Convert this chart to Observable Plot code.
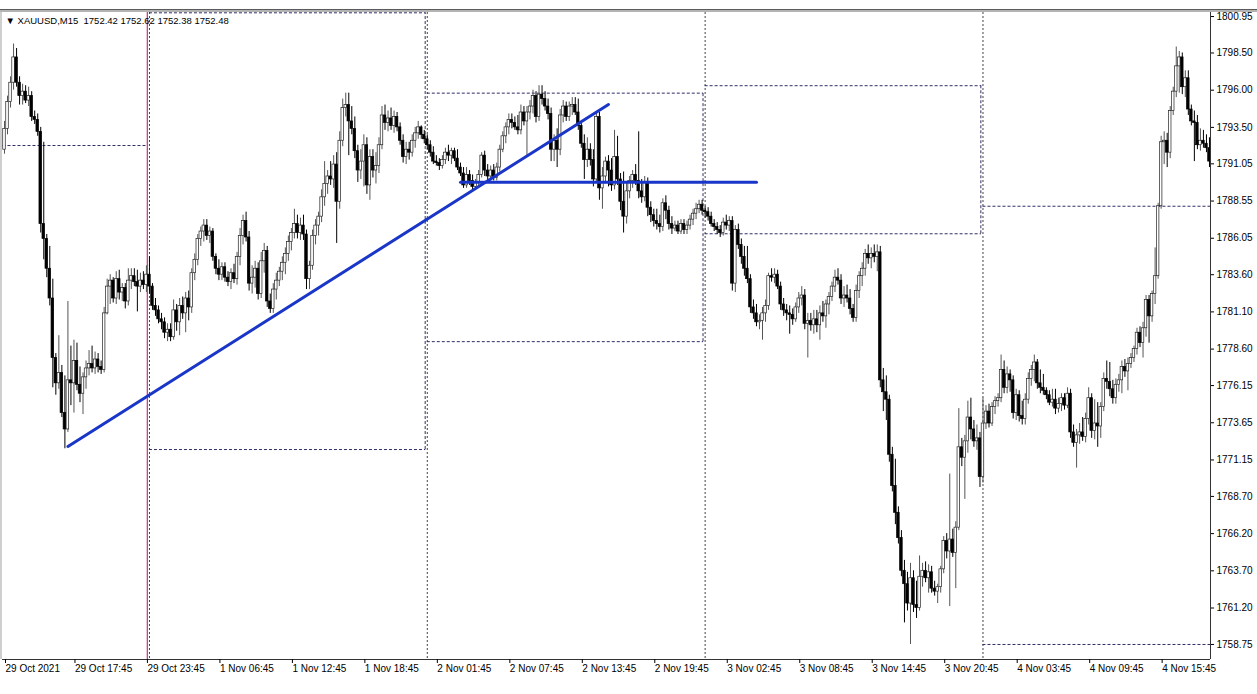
<!DOCTYPE html>
<html><head><meta charset="utf-8">
<script src="https://cdn.jsdelivr.net/npm/d3@7"></script>
<script src="https://cdn.jsdelivr.net/npm/@observablehq/plot@0.6"></script>
<style>
html,body{margin:0;padding:0;background:#fff;}
#wrap{position:relative;width:1257px;height:694px;overflow:hidden;background:#fff;}
#wrap svg{position:absolute;left:0;top:0;}
.ln{position:absolute;left:0;width:1257px;}
</style></head><body>
<div id="wrap">
<div class="ln" style="top:9px;height:1px;background:#5a5a5a"></div>
<div class="ln" style="top:10px;height:2px;background:#b4b4b4"></div>
<div style="position:absolute;left:0;top:12px;width:2px;height:647px;background:#cfcfcf"></div>
</div>
<script>
// ---- OHLC data, M15 bars, one array per trading day: [open, high, low, close]
const oct29 = [
[1792.0,1793.9,1791.7,1793.4],[1793.4,1795.6,1793.0,1795.2],[1795.2,1796.9,1794.8,1796.5],[1796.5,1799.1,1796.0,1798.2],
[1798.2,1798.8,1796.2,1796.5],[1796.5,1796.9,1795.0,1795.6],[1795.6,1796.4,1795.0,1795.9],[1795.9,1796.3,1795.1,1795.3],
[1795.3,1796.2,1794.9,1795.6],[1795.6,1795.9,1793.9,1794.2],[1794.2,1794.6,1793.7,1794.0],[1794.0,1794.4,1792.9,1793.2],
[1793.2,1793.5,1786.4,1787.0],[1787.0,1792.5,1784.6,1786.0],[1786.0,1786.3,1783.4,1784.0],[1784.0,1785.5,1781.5,1782.0],
[1782.0,1783.3,1776.0,1778.0],[1778.0,1778.3,1775.5,1776.3],[1776.3,1779.5,1775.9,1777.0],[1777.0,1777.5,1774.0,1774.3],
[1774.3,1776.8,1771.9,1773.2],[1773.2,1781.8,1773.0,1776.5],[1776.5,1778.8,1774.8,1776.3],[1776.3,1779.2,1774.3,1777.8],
[1777.8,1779.0,1775.8,1776.2],[1776.2,1777.4,1775.0,1775.6],[1775.6,1777.0,1774.2,1776.7],[1776.7,1777.8,1775.9,1777.3],
[1777.3,1778.5,1776.8,1777.6],[1777.6,1778.8,1777.0,1777.3],[1777.3,1778.4,1776.9,1777.9],[1777.9,1778.3,1777.0,1777.4],
[1777.4,1777.8,1776.9,1777.2],[1777.2,1781.4,1777.0,1781.0],[1781.0,1783.3,1780.9,1782.8],[1782.8,1783.6,1781.6,1783.2],
[1783.2,1783.4,1781.7,1782.0],[1782.0,1783.8,1781.6,1783.3],[1783.3,1783.9,1781.9,1782.4],[1782.4,1783.0,1781.8,1782.7],
[1782.7,1783.0,1781.3,1781.8],[1781.8,1784.0,1781.5,1783.2],[1783.2,1784.0,1782.6,1783.5],[1783.5,1784.0,1782.8,1783.1],
[1783.1,1783.9,1781.1,1782.8],[1782.8,1783.7,1782.4,1783.2],[1783.2,1783.8,1782.6,1782.9],[1782.9,1784.2,1782.4,1783.6]
];
const nov01 = [
[1783.6,1784.8,1782.3,1782.8],[1782.8,1783.0,1781.2,1781.5],[1781.5,1782.0,1780.8,1781.2],[1781.2,1781.5,1780.3,1780.6],
[1780.6,1781.0,1779.9,1780.4],[1780.4,1780.7,1779.3,1779.7],[1779.7,1780.3,1779.1,1779.9],[1779.9,1780.3,1779.1,1779.4],
[1779.4,1781.9,1779.2,1781.2],[1781.2,1781.6,1779.8,1780.4],[1780.4,1782.0,1779.5,1781.5],[1781.5,1782.1,1780.6,1781.0],
[1781.0,1782.4,1779.7,1782.0],[1782.0,1782.5,1780.5,1781.4],[1781.4,1784.0,1781.0,1783.7],[1783.7,1785.0,1783.2,1784.6],
[1784.6,1786.3,1784.2,1786.0],[1786.0,1786.8,1785.5,1786.5],[1786.5,1787.3,1785.8,1786.9],[1786.9,1787.3,1785.9,1786.2],
[1786.2,1786.8,1785.7,1786.5],[1786.5,1786.7,1784.5,1784.8],[1784.8,1785.0,1783.6,1784.0],[1784.0,1784.6,1783.2,1783.6],
[1783.6,1784.4,1783.2,1784.1],[1784.1,1784.4,1783.1,1783.4],[1783.4,1783.8,1782.8,1783.1],[1783.1,1784.0,1782.6,1783.7],
[1783.7,1784.3,1783.0,1783.3],[1783.3,1785.1,1782.9,1784.8],[1784.8,1786.7,1784.2,1786.2],[1786.2,1787.6,1785.6,1787.2],
[1787.2,1787.8,1785.8,1786.1],[1786.1,1786.5,1782.5,1783.0],[1783.0,1784.2,1782.3,1783.4],[1783.4,1784.5,1782.7,1784.0],
[1784.0,1784.4,1781.9,1782.3],[1782.3,1785.1,1782.0,1784.5],[1784.5,1785.7,1783.7,1785.2],[1785.2,1785.5,1781.4,1781.8],
[1781.8,1782.3,1781.0,1781.3],[1781.3,1783.0,1781.0,1782.6],[1782.6,1783.7,1781.9,1783.2],[1783.2,1784.1,1782.8,1783.8],
[1783.8,1784.8,1783.2,1784.4],[1784.4,1785.4,1783.6,1785.0],[1785.0,1786.2,1784.5,1785.8],[1785.8,1786.7,1785.2,1786.4],
[1786.4,1788.0,1786.0,1787.0],[1787.0,1787.6,1786.0,1786.4],[1786.4,1787.4,1785.9,1786.9],[1786.9,1787.6,1785.9,1786.3],
[1786.3,1786.6,1782.6,1783.3],[1783.3,1784.5,1782.6,1784.2],[1784.2,1786.6,1783.9,1786.2],[1786.2,1787.3,1785.6,1786.9],
[1786.9,1787.8,1786.2,1787.5],[1787.5,1789.3,1787.1,1788.8],[1788.8,1791.2,1788.2,1789.7],[1789.7,1790.6,1789.0,1790.2],
[1790.2,1791.2,1789.6,1790.0],[1790.0,1791.6,1789.4,1791.0],[1791.0,1791.8,1785.7,1788.5],[1788.5,1793.2,1788.0,1792.6],
[1792.6,1795.4,1792.2,1794.8],[1794.8,1795.8,1794.2,1795.0],[1795.0,1795.8,1791.6,1793.9],[1793.9,1794.9,1793.0,1793.4],
[1793.4,1794.2,1791.4,1791.9],[1791.9,1792.3,1789.8,1790.6],[1790.6,1792.0,1790.0,1791.2],[1791.2,1793.0,1789.5,1792.3],
[1792.3,1792.8,1789.0,1789.6],[1789.6,1792.0,1788.6,1791.5],[1791.5,1792.0,1790.1,1790.6],[1790.6,1791.8,1789.7,1790.9],
[1790.9,1792.8,1790.4,1792.3],[1792.3,1794.9,1792.0,1794.3],[1794.3,1795.0,1793.3,1793.8],[1793.8,1794.6,1793.2,1794.1],
[1794.1,1794.8,1793.3,1793.6],[1793.6,1794.6,1793.1,1794.2],[1794.2,1794.5,1793.2,1793.5],[1793.5,1793.8,1792.3,1792.6],
[1792.6,1793.0,1791.1,1791.5],[1791.5,1792.5,1791.0,1792.0],[1792.0,1792.5,1791.3,1791.8],[1791.8,1793.0,1791.5,1792.6],
[1792.6,1793.5,1792.1,1793.1],[1793.1,1793.9,1792.7,1793.5],[1793.5,1793.6,1792.7,1793.0],[1793.0,1793.3,1792.4,1792.7]
];
const nov02 = [
[1792.7,1793.0,1792.0,1792.3],[1792.3,1792.6,1791.5,1791.8],[1791.8,1792.2,1791.0,1791.2],[1791.2,1791.6,1790.9,1791.1],
[1791.1,1791.4,1790.6,1790.9],[1790.9,1791.6,1790.7,1791.3],[1791.3,1792.1,1791.0,1791.8],[1791.8,1792.3,1791.2,1791.6],
[1791.6,1792.1,1791.0,1791.9],[1791.9,1792.1,1791.2,1791.4],[1791.4,1792.0,1790.6,1790.8],[1790.8,1791.1,1790.2,1790.4],
[1790.4,1790.8,1789.4,1789.6],[1789.6,1790.8,1789.4,1790.3],[1790.3,1790.6,1789.6,1789.9],[1789.9,1790.3,1789.2,1789.5],
[1789.5,1790.0,1789.3,1789.8],[1789.8,1790.6,1789.5,1790.3],[1790.3,1791.8,1790.1,1791.6],[1791.6,1791.9,1790.2,1790.6],
[1790.6,1791.0,1789.9,1790.2],[1790.2,1790.9,1789.9,1790.6],[1790.6,1791.0,1789.9,1790.1],[1790.1,1791.1,1789.9,1790.8],
[1790.8,1792.3,1790.5,1792.0],[1792.0,1793.2,1791.8,1792.9],[1792.9,1793.8,1792.4,1793.5],[1793.5,1794.4,1793.0,1794.0],
[1794.0,1794.4,1793.4,1793.8],[1793.8,1794.2,1793.3,1793.5],[1793.5,1794.3,1793.0,1793.3],[1793.3,1795.0,1793.0,1794.5],
[1794.5,1794.9,1793.6,1793.9],[1793.9,1794.9,1791.5,1794.5],[1794.5,1795.3,1794.0,1794.9],[1794.9,1796.0,1794.4,1795.6],
[1795.6,1795.9,1793.8,1794.2],[1794.2,1796.3,1793.9,1795.7],[1795.7,1796.3,1795.0,1795.4],[1795.4,1795.9,1794.6,1794.9],
[1794.9,1795.4,1794.0,1794.4],[1794.4,1794.8,1791.2,1792.0],[1792.0,1793.0,1791.2,1792.6],[1792.6,1793.4,1790.8,1792.0],
[1792.0,1794.7,1791.6,1794.3],[1794.3,1795.3,1793.8,1794.9],[1794.9,1795.2,1793.9,1794.2],[1794.2,1795.2,1793.9,1794.9],
[1794.9,1795.5,1794.3,1795.0],[1795.0,1795.5,1794.3,1794.5],[1794.5,1795.4,1793.3,1793.6],[1793.6,1793.9,1792.1,1792.4],
[1792.4,1793.0,1790.0,1791.3],[1791.3,1792.8,1790.8,1792.0],[1792.0,1792.4,1790.9,1791.3],[1791.3,1792.0,1789.5,1790.0],
[1790.0,1794.5,1789.8,1794.2],[1794.2,1794.5,1788.6,1789.4],[1789.4,1790.8,1788.0,1790.2],[1790.2,1791.5,1789.7,1791.2],
[1791.2,1791.6,1789.5,1790.6],[1790.6,1791.4,1789.2,1789.6],[1789.6,1793.3,1789.3,1791.5],[1791.5,1792.9,1789.6,1790.0],
[1790.0,1790.4,1787.9,1788.5],[1788.5,1790.5,1786.4,1787.5],[1787.5,1789.8,1787.0,1789.2],[1789.2,1790.2,1788.7,1789.9],
[1789.9,1790.6,1789.4,1790.3],[1790.3,1791.0,1789.6,1789.9],[1789.9,1793.2,1788.7,1789.2],[1789.2,1790.0,1788.4,1788.8],
[1788.8,1790.2,1788.5,1789.8],[1789.8,1790.1,1787.5,1788.1],[1788.1,1788.5,1787.1,1787.6],[1787.6,1788.0,1786.8,1787.2],
[1787.2,1788.0,1786.6,1787.0],[1787.0,1787.6,1786.4,1786.8],[1786.8,1788.7,1786.5,1788.4],[1788.4,1788.9,1787.3,1787.9],
[1787.9,1788.2,1786.6,1787.0],[1787.0,1787.5,1786.3,1786.7],[1786.7,1787.2,1786.5,1786.9],[1786.9,1787.2,1786.3,1786.5],
[1786.5,1787.3,1786.3,1787.0],[1787.0,1787.3,1786.3,1786.6],[1786.6,1787.2,1786.3,1786.9],[1786.9,1787.6,1786.6,1787.3],
[1787.3,1788.0,1786.9,1787.7],[1787.7,1788.4,1787.3,1788.0],[1788.0,1788.6,1787.7,1788.3],[1788.3,1788.6,1787.6,1787.9]
];
const nov03 = [
[1787.9,1788.2,1787.4,1787.8],[1787.8,1788.1,1787.2,1787.5],[1787.5,1787.8,1786.8,1787.0],[1787.0,1787.3,1786.5,1786.8],
[1786.8,1787.1,1786.3,1786.6],[1786.6,1786.9,1786.1,1786.4],[1786.4,1787.4,1786.2,1787.1],[1787.1,1787.6,1786.6,1786.9],
[1786.9,1787.5,1786.5,1787.2],[1787.2,1787.5,1782.5,1783.0],[1783.0,1786.9,1782.4,1786.6],[1786.6,1787.0,1785.3,1785.6],
[1785.6,1786.0,1784.3,1784.8],[1784.8,1785.5,1783.5,1784.0],[1784.0,1785.5,1783.0,1783.3],[1783.3,1783.6,1781.0,1781.4],
[1781.4,1781.9,1780.6,1781.0],[1781.0,1781.6,1780.1,1780.4],[1780.4,1780.9,1779.9,1780.5],[1780.5,1781.4,1779.2,1781.0],
[1781.0,1781.9,1780.4,1781.5],[1781.5,1783.7,1781.2,1783.5],[1783.5,1784.0,1783.1,1783.4],[1783.4,1784.0,1783.0,1783.6],
[1783.6,1783.9,1782.6,1782.8],[1782.8,1783.1,1781.2,1781.6],[1781.6,1782.0,1780.8,1781.2],[1781.2,1781.6,1780.5,1781.0],
[1781.0,1781.5,1779.6,1780.9],[1780.9,1781.3,1780.2,1780.6],[1780.6,1781.7,1780.4,1781.4],[1781.4,1782.4,1781.0,1782.0],
[1782.0,1782.8,1781.5,1782.2],[1782.2,1782.6,1779.9,1780.3],[1780.3,1781.0,1778.0,1780.5],[1780.5,1781.0,1779.8,1780.2],
[1780.2,1781.2,1779.6,1780.6],[1780.6,1781.2,1779.7,1780.2],[1780.2,1781.5,1779.2,1781.0],[1781.0,1781.8,1780.4,1780.8],
[1780.8,1781.9,1780.0,1781.6],[1781.6,1782.4,1780.9,1782.1],[1782.1,1783.1,1781.8,1782.8],[1782.8,1783.9,1782.4,1783.4],
[1783.4,1784.0,1782.9,1783.2],[1783.2,1783.6,1781.6,1782.0],[1782.0,1782.8,1781.4,1782.2],[1782.2,1782.9,1781.7,1782.0],
[1782.0,1782.6,1780.9,1781.3],[1781.3,1781.6,1780.4,1780.7],[1780.7,1782.9,1780.4,1782.5],[1782.5,1783.8,1782.0,1783.5],
[1783.5,1784.4,1782.8,1784.0],[1784.0,1785.3,1783.5,1785.0],[1785.0,1785.6,1784.3,1784.7],[1784.7,1785.4,1784.0,1785.0],
[1785.0,1785.6,1784.4,1784.8],[1784.8,1785.6,1783.8,1785.1],[1785.1,1785.5,1776.0,1776.5],[1776.5,1777.3,1774.4,1775.7],
[1775.7,1776.8,1773.8,1775.2],[1775.2,1775.5,1771.0,1771.5],[1771.5,1772.0,1769.0,1769.4],[1769.4,1771.2,1766.8,1767.6],
[1767.6,1768.0,1765.5,1765.9],[1765.9,1766.4,1763.3,1763.7],[1763.7,1764.4,1760.2,1762.8],[1762.8,1763.6,1761.0,1761.5],
[1761.5,1764.2,1758.75,1763.2],[1763.2,1763.7,1760.9,1761.4],[1761.4,1763.0,1760.5,1761.2],[1761.2,1764.7,1761.0,1763.3],
[1763.3,1764.2,1762.6,1763.7],[1763.7,1764.3,1762.9,1763.2],[1763.2,1764.1,1762.2,1763.6],[1763.6,1764.0,1762.2,1762.5],
[1762.5,1763.0,1762.0,1762.3],[1762.3,1762.8,1761.5,1762.6],[1762.6,1764.0,1762.2,1763.8],[1763.8,1766.0,1763.5,1765.7],
[1765.7,1766.2,1764.5,1765.0],[1765.0,1770.2,1761.3,1765.8],[1765.8,1766.5,1764.6,1764.9],[1764.9,1767.0,1762.5,1766.6],
[1766.6,1774.6,1766.4,1772.0],[1772.0,1772.6,1770.7,1771.3],[1771.3,1772.8,1768.5,1772.4],[1772.4,1775.1,1771.6,1774.0],
[1774.0,1775.3,1772.5,1773.2],[1773.2,1773.8,1772.0,1772.4],[1772.4,1773.5,1771.8,1772.6],[1772.6,1773.0,1769.3,1770.0]
];
const nov04 = [
[1770.0,1775.3,1769.6,1773.6],[1773.6,1774.8,1773.2,1774.4],[1774.4,1774.9,1773.3,1773.6],[1773.6,1775.0,1773.4,1774.7],
[1774.7,1775.4,1774.2,1775.1],[1775.1,1775.6,1774.7,1775.3],[1775.3,1778.2,1775.0,1777.2],[1777.2,1777.8,1775.6,1776.0],
[1776.0,1777.4,1775.6,1776.9],[1776.9,1777.2,1775.7,1776.5],[1776.5,1776.8,1773.9,1774.3],[1774.3,1775.9,1773.8,1775.5],
[1775.5,1775.8,1773.7,1774.1],[1774.1,1775.1,1773.5,1773.9],[1773.9,1775.6,1773.5,1775.2],[1775.2,1777.0,1774.9,1776.6],
[1776.6,1777.5,1776.1,1777.2],[1777.2,1778.2,1776.4,1777.7],[1777.7,1777.9,1775.9,1776.3],[1776.3,1777.2,1775.6,1776.0],
[1776.0,1776.9,1775.5,1775.8],[1775.8,1776.0,1775.2,1775.5],[1775.5,1775.8,1774.8,1775.0],[1775.0,1775.9,1774.7,1775.2],
[1775.2,1775.9,1774.2,1774.6],[1774.6,1775.3,1774.3,1774.9],[1774.9,1775.6,1774.4,1775.3],[1775.3,1775.6,1774.5,1774.8],
[1774.8,1776.0,1774.6,1775.6],[1775.6,1775.9,1772.6,1773.0],[1773.0,1773.5,1772.0,1772.3],[1772.3,1773.2,1770.6,1772.8],
[1772.8,1773.6,1772.2,1773.0],[1773.0,1774.0,1772.4,1772.7],[1772.7,1774.3,1772.3,1773.9],[1773.9,1776.0,1773.5,1775.3],
[1775.3,1775.6,1772.6,1773.1],[1773.1,1775.2,1772.5,1773.6],[1773.6,1775.0,1772.0,1773.4],[1773.4,1775.0,1772.6,1774.7],
[1774.7,1777.0,1774.4,1776.6],[1776.6,1777.8,1775.9,1776.4],[1776.4,1777.7,1775.4,1775.9],[1775.9,1776.5,1774.9,1775.3],
[1775.3,1776.6,1774.9,1776.2],[1776.2,1776.9,1775.7,1776.5],[1776.5,1777.8,1775.6,1777.4],[1777.4,1777.9,1776.7,1777.1],
[1777.1,1778.0,1775.8,1777.6],[1777.6,1778.3,1777.3,1778.0],[1778.0,1778.8,1777.7,1778.6],[1778.6,1780.0,1778.2,1779.7],
[1779.7,1780.1,1778.7,1779.0],[1779.0,1780.4,1778.0,1780.0],[1780.0,1782.2,1779.4,1781.9],[1781.9,1782.2,1779.0,1780.8],
[1780.8,1782.5,1780.4,1782.3],[1782.3,1785.4,1781.6,1783.5],[1783.5,1788.4,1783.3,1788.2],[1788.2,1792.9,1788.0,1792.5],
[1792.5,1793.2,1791.0,1792.6],[1792.6,1793.1,1790.8,1791.8],[1791.8,1794.9,1791.4,1794.6],[1794.6,1796.2,1794.3,1795.9],
[1795.9,1798.9,1795.5,1797.6],[1797.6,1798.6,1795.8,1798.2],[1798.2,1798.5,1795.7,1796.2],[1796.2,1797.3,1795.5,1796.8],
[1796.8,1797.3,1794.3,1794.7],[1794.7,1795.0,1793.6,1793.9],[1793.9,1794.6,1791.2,1793.8],[1793.8,1794.3,1792.0,1792.3],
[1792.3,1793.4,1791.9,1792.6],[1792.6,1793.3,1792.1,1792.4],[1792.4,1793.0,1791.8,1792.1],[1792.1,1792.8,1790.8,1791.2]
];

// ---- previous-day high / low levels drawn for each day (null = off chart)
const dayNames = ["29 Oct", "1 Nov", "2 Nov", "3 Nov", "4 Nov"];
const prevHigh = [null, 1801.2, 1795.8, 1796.3, 1788.2];
const prevLow  = [1792.28, 1771.85, 1779.1, 1786.35, 1758.75];

// ---- drawn objects (bar number, price)
const trendLine = [{bar: 21, price: 1772.06}, {bar: 200, price: 1795.04}];
const levelLine = [{bar: 151, price: 1789.82}, {bar: 249, price: 1789.82}];
const markerBars = [47.3];

// ---- axes
const yTicks = [1800.95,1798.50,1796.00,1793.50,1791.05,1788.55,1786.05,1783.60,1781.10,1778.60,1776.15,1773.65,1771.15,1768.70,1766.20,1763.70,1761.20,1758.75];
const xTickBars = [0,23,47,71,95,119,143,167,191,215,239,263,287,311,335,359,383];
const xTickLabels = ["29 Oct 2021","29 Oct 17:45","29 Oct 23:45","1 Nov 06:45","1 Nov 12:45","1 Nov 18:45","2 Nov 01:45","2 Nov 07:45","2 Nov 13:45","2 Nov 19:45","3 Nov 02:45","3 Nov 08:45","3 Nov 14:45","3 Nov 20:45","4 Nov 03:45","4 Nov 09:45","4 Nov 15:45"];
const title = "\u25BC XAUUSD,M15\u00A0\u00A01752.42 1752.62 1752.38 1752.48";

// ---- build tables
const dayArrays = [oct29, nov01, nov02, nov03, nov04];
const bars = dayArrays.flat().map((r, i) => ({i, open: r[0], high: r[1], low: r[2], close: r[3]}));
let s = 0;
const days = dayArrays.map((arr, k) => {
  const d = {name: dayNames[k], start: s, end: s + arr.length - 1, prevHigh: prevHigh[k], prevLow: prevLow[k]};
  s += arr.length; return d;
});
const levels = [];
days.forEach((d, k) => {
  const x1 = k === 0 ? d.start - 0.5 : d.start;
  const x2 = d.end + 0.5;
  if (d.prevHigh != null) levels.push({x1, x2, price: d.prevHigh});
  if (d.prevLow != null) levels.push({x1, x2, price: d.prevLow});
});
const boxEdges = days.slice(1, -1).map(d => ({x: d.end + 0.3, y1: d.prevLow, y2: d.prevHigh}));

const xDomain = [-0.66, bars.length - 0.66];
const yDomain = [1757.74, 1801.22];
const bull = bars.filter(d => d.close >= d.open);
const bear = bars.filter(d => d.close < d.open);
const navy = "#2e2e66";

const chart = Plot.plot({
  width: 1257, height: 694,
  marginLeft: 2, marginRight: 47, marginTop: 12, marginBottom: 35,
  style: {fontFamily: "'Liberation Sans', Arial, sans-serif", fontSize: "10px", color: "#000", background: "transparent"},
  x: {domain: xDomain, label: null},
  y: {domain: yDomain, label: null},
  marks: [
    Plot.ruleX(days.slice(1), {x: "start", stroke: "#444", strokeDasharray: "2,2", strokeWidth: 1}),
    Plot.ruleX(markerBars, {x: d => d, stroke: "#c8408c", strokeWidth: 1.3}),
    Plot.ruleY(levels, {y: "price", x1: "x1", x2: "x2", stroke: navy, strokeDasharray: "3,2", strokeWidth: 1}),
    Plot.ruleX(boxEdges, {x: "x", y1: "y1", y2: "y2", stroke: navy, strokeDasharray: "3,2", strokeWidth: 1}),
    Plot.ruleX(bull, {x: "i", y1: "low", y2: "high", stroke: "#555", strokeWidth: 1}),
    Plot.ruleX(bear, {x: "i", y1: "low", y2: "high", stroke: "#000", strokeWidth: 1}),
    Plot.rect(bull, {x1: d => d.i - 0.42, x2: d => d.i + 0.42, y1: "open", y2: "close", fill: "#fff", stroke: "#222", strokeWidth: 0.7}),
    Plot.rect(bear, {x1: d => d.i - 0.42, x2: d => d.i + 0.42, y1: "open", y2: "close", fill: "#000", stroke: "#000", strokeWidth: 0.7}),
    Plot.line(trendLine, {x: "bar", y: "price", stroke: "#1a36c8", strokeWidth: 3}),
    Plot.line(levelLine, {x: "bar", y: "price", stroke: "#1a36c8", strokeWidth: 3}),
    Plot.ruleX([xDomain[1]], {stroke: "#333", strokeWidth: 1}),
    Plot.ruleY([yDomain[0]], {stroke: "#333", strokeWidth: 1}),
    Plot.axisY(yTicks, {anchor: "right", tickSize: 3, tickPadding: 3, tickFormat: d => d.toFixed(2), label: null, fontSize: 10}),
    Plot.axisX(xTickBars, {anchor: "bottom", tickSize: 4, tickPadding: 1, textAnchor: "start", dx: 1, label: null, fontSize: 10,
      tickFormat: d => xTickLabels[xTickBars.indexOf(d)]}),
    Plot.text([title], {text: d => d, frameAnchor: "top-left", dx: 3, dy: 8, lineAnchor: "middle", textAnchor: "start", fontSize: 9.5, fill: "#000"})
  ]
});
document.getElementById("wrap").appendChild(chart);
</script></body></html>
